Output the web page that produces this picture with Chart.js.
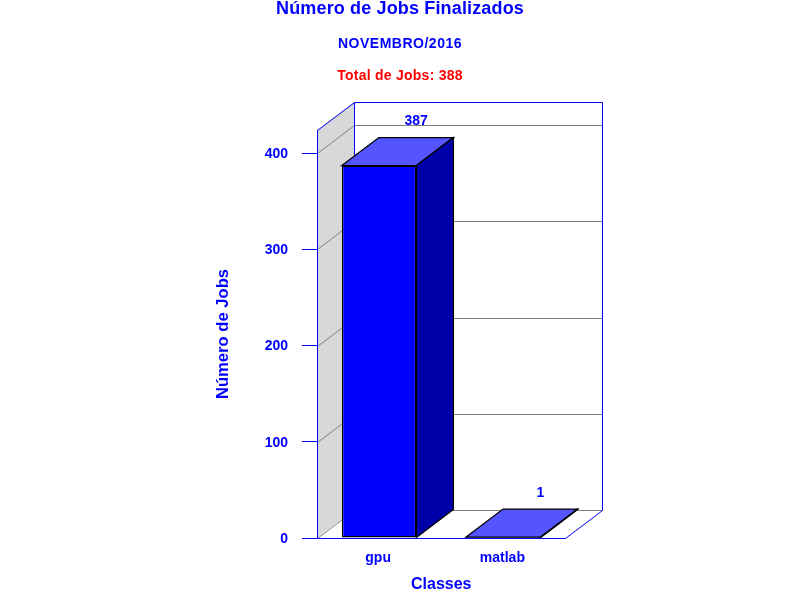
<!DOCTYPE html>
<html>
<head>
<meta charset="utf-8">
<title>Número de Jobs Finalizados</title>
<script src="https://cdn.jsdelivr.net/npm/chart.js@4"></script>
<style>
    html, body { margin: 0; padding: 0; background: #fff; }
    canvas { display: block; }
</style>
</head>
<body>
<canvas id="jobsChart" width="800" height="600"></canvas>
<script>
'use strict';

// Chart data
const classes = ['gpu', 'matlab'];
const jobCounts = [387, 1];
const yTickStep = 100;
const yAxisMax = 424;

const titleText = 'Número de Jobs Finalizados';
const monthText = 'NOVEMBRO/2016';
const totalText = 'Total de Jobs: 388';
const xAxisText = 'Classes';
const yAxisText = 'Número de Jobs';

// Colors
const BLUE = '#0000FF';
const RED = '#FF0000';
const GRAY = '#808080';
const WALL = '#D8D8D8';
const BAR_TOP = '#5555FF';
const BAR_SIDE = '#0000AA';
const FONT = '"Liberation Sans", Arial, sans-serif';

// 3D depth of the box, in pixels
const DEPTH_X = 37;
const DEPTH_Y = -28;

function fillPoly(ctx, points, fill, stroke) {
    ctx.beginPath();
    points.forEach((p, i) => i ? ctx.lineTo(p[0], p[1]) : ctx.moveTo(p[0], p[1]));
    ctx.closePath();
    if (fill) {
        ctx.fillStyle = fill;
        ctx.fill();
    }
    if (stroke) {
        ctx.strokeStyle = stroke;
        ctx.lineWidth = 1.3;
        ctx.stroke();
    }
}

// Snap to the pixel centre so thin lines stay crisp
function crisp(v) {
    return Math.floor(v) + 0.5;
}

function line(ctx, x1, y1, x2, y2, color) {
    ctx.beginPath();
    ctx.moveTo(crisp(x1), crisp(y1));
    ctx.lineTo(crisp(x2), crisp(y2));
    ctx.strokeStyle = color;
    ctx.lineWidth = 1;
    ctx.stroke();
}

function drawHeading(ctx, text, y, font, color, spacing) {
    ctx.font = font;
    ctx.fillStyle = color;
    ctx.letterSpacing = spacing + 'px';
    ctx.fillText(text, 400, y);
    ctx.letterSpacing = '0px';
}

// Draws the walls and floor behind the axes, the bar sides and the headings
const boxPlugin = {
    id: 'box3d',
    beforeDraw(chart) {
        const { ctx, chartArea, scales } = chart;
        const { left, right, top, bottom } = chartArea;
        const backLeft = left + DEPTH_X;
        const backRight = right + DEPTH_X;
        const backTop = top + DEPTH_Y;
        const backBottom = bottom + DEPTH_Y;

        ctx.save();
        ctx.fillStyle = '#fff';
        ctx.fillRect(0, 0, chart.width, chart.height);

        fillPoly(ctx, [[left, bottom], [backLeft, backBottom], [backLeft, backTop], [left, top]], WALL);

        scales.y.ticks.forEach(tick => {
            const y = Math.round(scales.y.getPixelForValue(tick.value));
            line(ctx, left, y, backLeft, y + DEPTH_Y, GRAY);
            line(ctx, backLeft, y + DEPTH_Y, backRight, y + DEPTH_Y, GRAY);
        });

        line(ctx, left, top, backLeft, backTop, BLUE);
        line(ctx, backLeft, backTop, backRight, backTop, BLUE);
        line(ctx, backLeft, backTop, backLeft, backBottom, BLUE);
        line(ctx, backRight, backTop, backRight, backBottom, BLUE);
        line(ctx, right, bottom, backRight, backBottom, BLUE);
        ctx.restore();
    },
    beforeDatasetsDraw(chart) {
        const { ctx } = chart;
        ctx.save();
        chart.getDatasetMeta(0).data.forEach(bar => {
            const l = bar.x - bar.width / 2;
            const r = bar.x + bar.width / 2;
            fillPoly(ctx, [[l, bar.y], [l + DEPTH_X, bar.y + DEPTH_Y], [r + DEPTH_X, bar.y + DEPTH_Y], [r, bar.y]], BAR_TOP, '#000');
            fillPoly(ctx, [[r, bar.y], [r + DEPTH_X, bar.y + DEPTH_Y], [r + DEPTH_X, bar.base + DEPTH_Y], [r, bar.base]], BAR_SIDE, '#000');
        });
        ctx.restore();
    },
    afterDraw(chart) {
        const { ctx } = chart;
        ctx.save();
        ctx.textAlign = 'center';
        ctx.textBaseline = 'middle';

        // Value labels float above the back edge of each bar top
        ctx.font = 'bold 14px ' + FONT;
        ctx.fillStyle = BLUE;
        chart.getDatasetMeta(0).data.forEach((bar, i) => {
            ctx.fillText(String(jobCounts[i]), bar.x + DEPTH_X, bar.y + DEPTH_Y - 16);
        });

        drawHeading(ctx, titleText, 9, 'bold 18px ' + FONT, BLUE, 0.15);
        drawHeading(ctx, monthText, 44, 'bold 14px ' + FONT, BLUE, 0.5);
        drawHeading(ctx, totalText, 76, 'bold 14px ' + FONT, RED, 0.25);
        ctx.restore();
    }
};

new Chart(document.getElementById('jobsChart'), {
    type: 'bar',
    plugins: [boxPlugin],
    data: {
        labels: classes,
        datasets: [{
            data: jobCounts,
            backgroundColor: BLUE,
            borderColor: '#000',
            borderWidth: 1.5,
            borderSkipped: false,
            barPercentage: 0.6,
            categoryPercentage: 1
        }]
    },
    options: {
        responsive: false,
        animation: false,
        layout: { padding: { left: 213, right: 234.5, top: 130, bottom: 0 } },
        plugins: {
            legend: { display: false },
            tooltip: { enabled: false }
        },
        scales: {
            x: {
                afterFit: scale => { scale.height = 62; },
                border: { color: BLUE },
                grid: { drawOnChartArea: false, drawTicks: false },
                ticks: {
                    color: BLUE,
                    padding: 11.6,
                    labelOffset: -1,
                    font: { family: FONT, size: 14, weight: 'bold' }
                },
                title: {
                    display: true,
                    text: xAxisText,
                    color: BLUE,
                    padding: { top: 0, bottom: 5.4 },
                    font: { family: FONT, size: 16, weight: 'bold' }
                }
            },
            y: {
                min: 0,
                max: yAxisMax,
                afterFit: scale => { scale.width = 104; },
                border: { color: BLUE },
                grid: { drawOnChartArea: false, tickLength: 15, color: BLUE, tickColor: BLUE },
                ticks: {
                    stepSize: yTickStep,
                    includeBounds: false,
                    color: BLUE,
                    padding: 14,
                    labelOffset: 1,
                    font: { family: FONT, size: 14, weight: 'bold' }
                },
                title: {
                    display: true,
                    text: yAxisText,
                    color: BLUE,
                    padding: 0,
                    font: { family: FONT, size: 16.6, weight: 'bold' }
                }
            }
        }
    }
});
</script>
</body>
</html>
